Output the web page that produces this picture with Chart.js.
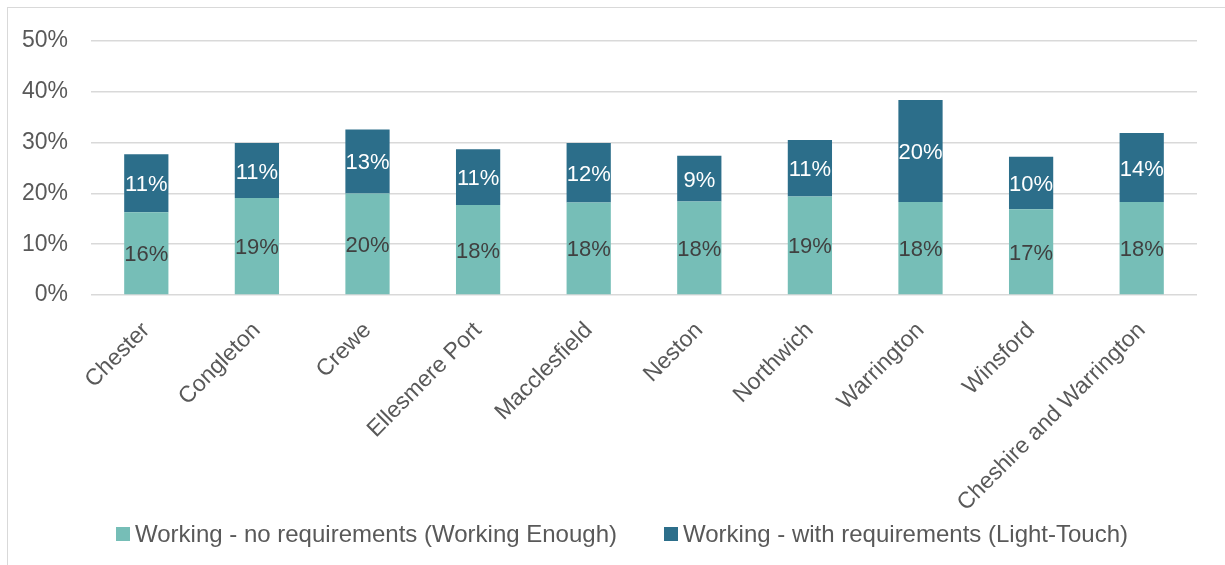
<!DOCTYPE html>
<html>
<head>
<meta charset="utf-8">
<script src="https://cdn.jsdelivr.net/npm/chart.js@4.4.1/dist/chart.umd.min.js"></script>
<style>
  html, body { margin: 0; padding: 0; background: #fff; overflow: hidden; }
  #marco { position: absolute; left: 7px; top: 7px; width: 1300px; height: 600px; border: 1px solid #d9d9d9; }
  #caja { position: absolute; left: 0; top: 0; width: 1225px; height: 565px; }
  #leyenda { position: absolute; left: 116px; top: 520px; display: flex; align-items: center;
             font: 24px 'Liberation Sans', Arial, sans-serif; color: #595959; white-space: nowrap; }
  #leyenda .item { display: flex; align-items: center; margin-right: 47px; }
  #leyenda .cuadro { width: 14px; height: 14px; margin-right: 5px; }
</style>
</head>
<body>
<div id="marco"></div>
<div id="caja"><canvas id="grafica"></canvas></div>
<div id="leyenda"></div>
<script>
// Zonas y porcentajes de cada grupo
const zonas = ['Chester', 'Congleton', 'Crewe', 'Ellesmere Port', 'Macclesfield', 'Neston', 'Northwich', 'Warrington', 'Winsford', 'Cheshire and Warrington'];
const sinRequisitos = [16.3, 19.1, 20.0, 17.7, 18.2, 18.4, 19.4, 18.3, 16.9, 18.3];
const conRequisitos = [11.4, 10.8, 12.6, 11.0, 11.7, 9.0, 11.1, 20.1, 10.3, 13.6];
const nombresSeries = ['Working - no requirements (Working Enough)', 'Working - with requirements (Light-Touch)'];
const colores = ['#76beb7', '#2c6e8a'];
const marcasEje = [0, 10, 20, 30, 40, 50];

const fuente = "'Liberation Sans', Arial, sans-serif";
const gris = '#595959';

// Etiquetas centradas dentro de cada tramo de barra
const etiquetasTramos = {
    id: 'etiquetasTramos',
    afterDatasetsDraw(chart) {
        const ctx = chart.ctx;
        ctx.save();
        ctx.font = '22px ' + fuente;
        ctx.textAlign = 'center';
        ctx.textBaseline = 'middle';
        chart.data.datasets.forEach((ds, i) => {
            const meta = chart.getDatasetMeta(i);
            ctx.fillStyle = i === 0 ? '#404040' : '#ffffff';
            meta.data.forEach((barra, j) => {
                const y = (barra.y + barra.base) / 2 + 2;
                ctx.fillText(Math.round(ds.data[j]) + '%', barra.x, y);
            });
        });
        ctx.restore();
    }
};

const grafica = new Chart(document.getElementById('grafica'), {
    type: 'bar',
    data: {
        labels: zonas,
        datasets: [
            { label: nombresSeries[0], data: sinRequisitos, backgroundColor: colores[0] },
            { label: nombresSeries[1], data: conRequisitos, backgroundColor: colores[1] }
        ]
    },
    options: {
        responsive: true,
        maintainAspectRatio: false,
        animation: false,
        layout: { padding: { left: 0, right: 28, top: 41, bottom: 0 } },
        datasets: { bar: { categoryPercentage: 1, barPercentage: 0.4 } },
        plugins: {
            tooltip: { enabled: false },
            legend: { display: false }
        },
        scales: {
            x: {
                stacked: true,
                grid: { display: false },
                border: { display: false },
                ticks: {
                    color: gris, minRotation: 45, maxRotation: 45, padding: 14,
                    font: { family: fuente, size: 23 }
                },
                afterFit: s => { s.height = 270; }
            },
            y: {
                stacked: true,
                min: marcasEje[0], max: marcasEje[marcasEje.length - 1],
                grid: { color: '#d9d9d9', lineWidth: 1.5, drawTicks: false },
                border: { display: false },
                ticks: {
                    stepSize: marcasEje[1] - marcasEje[0],
                    color: gris, padding: 23,
                    font: { family: fuente, size: 23 },
                    callback: v => v + '%'
                },
                afterFit: s => { s.width = 91; }
            }
        }
    },
    plugins: [etiquetasTramos]
});

// Leyenda en HTML a partir de las series
const leyenda = document.getElementById('leyenda');
grafica.data.datasets.forEach(ds => {
    const item = document.createElement('div');
    item.className = 'item';
    item.innerHTML = `<span class="cuadro" style="background:${ds.backgroundColor}"></span><span>${ds.label}</span>`;
    leyenda.appendChild(item);
});
</script>
</body>
</html>
